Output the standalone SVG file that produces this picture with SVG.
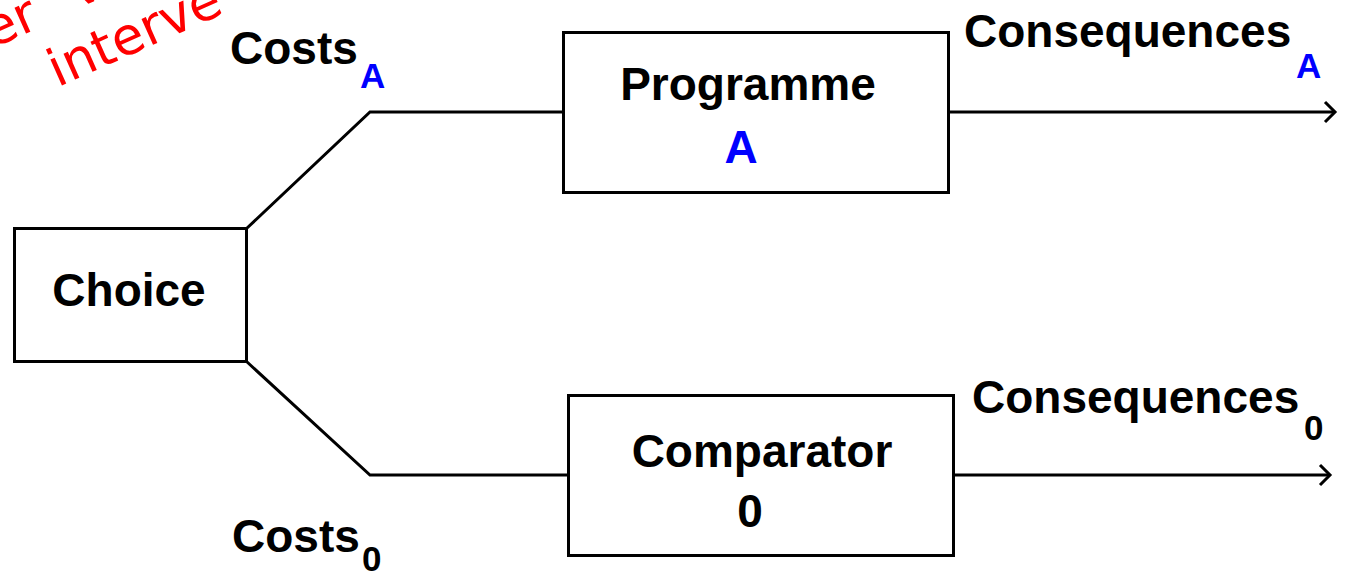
<svg xmlns="http://www.w3.org/2000/svg" width="1345" height="575" viewBox="0 0 1345 575">
  <style>
    .box { fill: #ffffff; stroke: #000000; stroke-width: 3; }
    .conn { fill: none; stroke: #000000; stroke-width: 3; }
    .lbl { font-family: "Liberation Sans", Arial, sans-serif; font-weight: bold; font-size: 46px; fill: #000000; }
    .sub { font-family: "Liberation Sans", Arial, sans-serif; font-weight: bold; font-size: 35px; }
    .blue { fill: #0000ff; }
    .red { font-family: "DejaVu Sans", Verdana, sans-serif; font-size: 52px; fill: #ff0000; }
  </style>
  <defs>
    <marker id="arrow" markerUnits="userSpaceOnUse" markerWidth="16" markerHeight="26" refX="13" refY="13" orient="auto">
      <path d="M3,3 L13,13 L3,23" fill="none" stroke="#000000" stroke-width="3"/>
    </marker>
  </defs>
  <rect width="1345" height="575" fill="#ffffff"/>

  <g id="annotation" transform="translate(63,85) rotate(-24)">
    <text class="red" x="-70" y="-62">ter</text>
    <text class="red" x="44" y="-64">v</text>
    <text class="red" x="-6" y="0">interve</text>
  </g>

  <g id="connectors">
    <polyline class="conn" points="246,229 370,112 563,112"/>
    <polyline class="conn" points="246,361 370,475 568,475"/>
    <line class="conn" x1="948" y1="112" x2="1335" y2="112" marker-end="url(#arrow)"/>
    <line class="conn" x1="953" y1="475" x2="1330" y2="475" marker-end="url(#arrow)"/>
  </g>

  <g id="choice">
    <rect class="box" x="14.5" y="228.5" width="232" height="133"/>
    <text class="lbl" x="129" y="306" text-anchor="middle">Choice</text>
  </g>

  <g id="programme">
    <rect class="box" x="563.5" y="32.5" width="385" height="160"/>
    <text class="lbl" x="748" y="100" text-anchor="middle">Programme</text>
    <text class="lbl blue" x="741" y="163" text-anchor="middle">A</text>
  </g>

  <g id="comparator">
    <rect class="box" x="568.5" y="395.5" width="385" height="160"/>
    <text class="lbl" x="762" y="467" text-anchor="middle">Comparator</text>
    <text class="lbl" x="750" y="527" text-anchor="middle">0</text>
  </g>

  <g id="labels">
    <text class="lbl" x="230" y="64">Costs</text>
    <text class="sub blue" x="360" y="88">A</text>
    <text class="lbl" x="232" y="552">Costs</text>
    <text class="sub" x="362" y="571">0</text>
    <text class="lbl" x="964" y="47">Consequences</text>
    <text class="sub blue" x="1296" y="78">A</text>
    <text class="lbl" x="972" y="413">Consequences</text>
    <text class="sub" x="1304" y="440">0</text>
  </g>
</svg>
